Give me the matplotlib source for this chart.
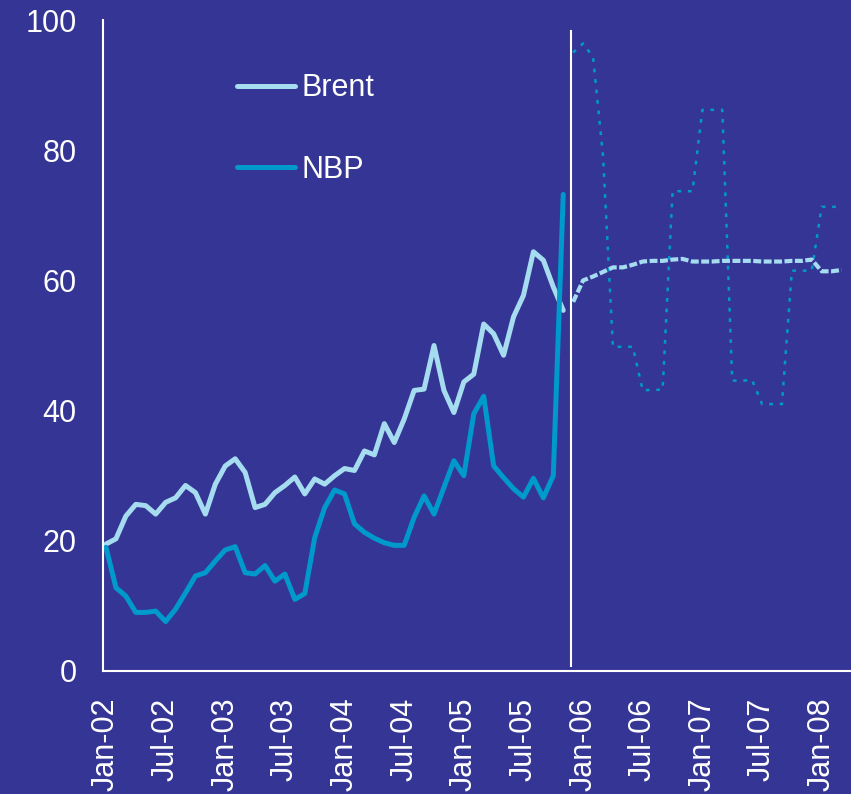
import matplotlib
matplotlib.use("Agg")
import matplotlib.pyplot as plt

# monthly values, Jan-02 .. Nov-05 (history)
brent_hist = [19.5, 20.3, 23.8, 25.6, 25.4, 24.1, 25.9, 26.6, 28.5, 27.4, 24.1, 28.7,
              31.5, 32.6, 30.5, 25.1, 25.6, 27.4, 28.5, 29.8, 27.2, 29.5, 28.7, 30.0,
              31.1, 30.8, 33.8, 33.2, 38.0, 35.1, 38.7, 43.1, 43.3, 50.0, 43.1, 39.7,
              44.4, 45.6, 53.3, 51.8, 48.5, 54.4, 57.7, 64.4, 63.1, 59.0, 55.4]
nbp_hist = [19.0, 12.8, 11.5, 9.0, 9.0, 9.2, 7.6, 9.5, 12.0, 14.6, 15.1, 16.9,
            18.6, 19.1, 15.1, 14.9, 16.2, 13.8, 14.9, 11.0, 11.9, 20.5, 25.1, 27.8,
            27.2, 22.6, 21.3, 20.4, 19.7, 19.3, 19.3, 23.6, 26.9, 24.1, 28.2, 32.3,
            30.0, 39.5, 42.2, 31.5, 29.7, 28.0, 26.7, 29.6, 26.6, 30.0, 73.2]

# forward curves, Dec-05 .. Mar-08
brent_fwd = [56.7, 60.0, 60.6, 61.3, 62.0, 62.0, 62.4, 62.9, 63.0, 63.0, 63.2, 63.3,
             62.9, 62.9, 62.9, 63.0, 63.0, 63.0, 63.0, 62.9, 62.9, 62.9, 63.0, 63.0,
             63.2, 61.4, 61.4, 61.6]
nbp_fwd = [95.0, 96.4, 94.3, 79.2, 49.8, 49.8, 49.8, 43.1, 43.2, 43.2, 73.7, 73.7,
           73.7, 86.2, 86.2, 86.2, 44.6, 44.6, 44.7, 41.0, 41.0, 41.0, 61.5, 61.5,
           61.5, 71.3, 71.3, 71.3]

tick_labels = ['Jan-02', 'Jul-02', 'Jan-03', 'Jul-03', 'Jan-04', 'Jul-04', 'Jan-05',
               'Jul-05', 'Jan-06', 'Jul-06', 'Jan-07', 'Jul-07', 'Jan-08']

bg = '#353596'
c_brent = '#A6DCEF'
c_nbp = '#0099CC'

plt.rcParams['font.family'] = ['Liberation Sans', 'DejaVu Sans']

fig = plt.figure(figsize=(8.51, 7.94), dpi=100, facecolor=bg)
ax = fig.add_axes([103/851, 123/794, 748/851, 651/794])
ax.set_facecolor(bg)

x_hist = list(range(len(brent_hist)))
x_fwd = list(range(len(brent_hist), len(brent_hist) + len(brent_fwd)))

ax.plot(x_hist, brent_hist, color=c_brent, lw=3.6, solid_joinstyle='round',
        solid_capstyle='round', label='Brent')
ax.plot(x_hist, nbp_hist, color=c_nbp, lw=3.6, solid_joinstyle='round',
        solid_capstyle='round', label='NBP')
ax.plot(x_fwd, nbp_fwd, color=c_nbp, lw=1.8, linestyle=(0, (1.5, 2.7)))
ax.plot(x_fwd, brent_fwd, color=c_brent, lw=3.0, linestyle=(0, (1.9, 0.6)))

# history / forward divider
ax.plot([46.8, 46.8], [0.8, 98.3], color='white', lw=1.5)

ax.set_xlim(-0.3, 74.95)
ax.set_ylim(0, 100)
ax.set_yticks([0, 20, 40, 60, 80, 100])
ax.set_xticks(range(0, 73, 6))
ax.set_xticklabels(tick_labels, rotation=90)
ax.tick_params(axis='both', length=0, colors='white', labelsize=22)
ax.tick_params(axis='x', pad=19)
ax.tick_params(axis='y', pad=19)

for s in ['top', 'right']:
    ax.spines[s].set_visible(False)
for s in ['left', 'bottom']:
    ax.spines[s].set_color('white')
    ax.spines[s].set_linewidth(1.5)

leg = ax.legend(loc='upper left', bbox_to_anchor=(0.179, 0.918), frameon=False,
                fontsize=22, handlelength=1.9, handletextpad=0.22, labelspacing=1.68,
                borderpad=0, borderaxespad=0)
for t in leg.get_texts():
    t.set_color('white')

fig.savefig('out.png', dpi=100, facecolor=bg)
